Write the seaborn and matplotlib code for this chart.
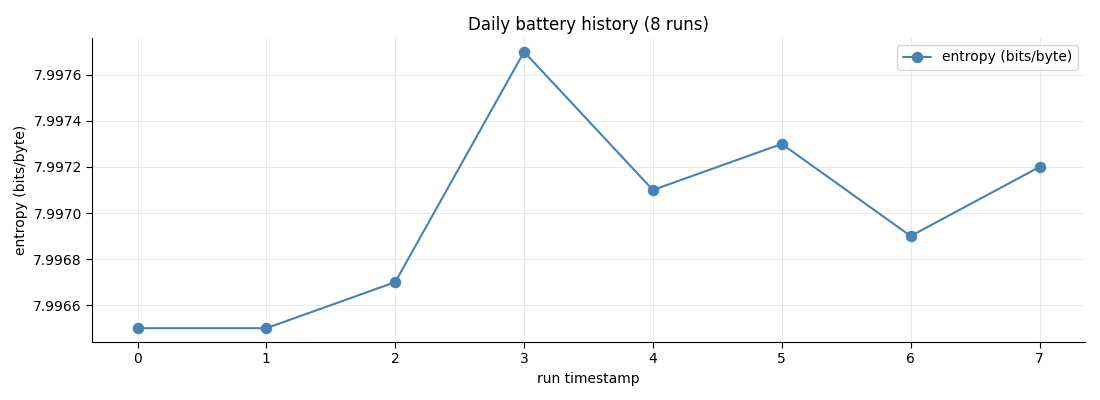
import matplotlib
matplotlib.use("Agg")
import matplotlib.pyplot as plt
import seaborn as sns
import pandas as pd

runs = [0, 1, 2, 3, 4, 5, 6, 7]
entropy = [7.9965, 7.9965, 7.9967, 7.9977, 7.9971, 7.9973, 7.9969, 7.9972]

df = pd.DataFrame({"run": runs, "entropy": entropy})

sns.set_style("white")
plt.rcParams['font.family'] = ['DejaVu Sans']
plt.rcParams.update({
    "text.color": "black", "axes.labelcolor": "black",
    "xtick.color": "black", "ytick.color": "black",
    "axes.edgecolor": "black",
})

fig, ax = plt.subplots(figsize=(11, 4), dpi=100)
sns.lineplot(data=df, x="run", y="entropy", marker="o", markersize=7.5,
             color="#4682b4", markeredgecolor="#4682b4", linewidth=1.5,
             label="entropy (bits/byte)", ax=ax)
ax.grid(True, color="#dddddd", linewidth=0.6, alpha=0.8)
ax.set_axisbelow(True)
ax.spines["top"].set_visible(False)
ax.spines["right"].set_visible(False)
ax.set_title("Daily battery history (8 runs)", fontsize=12)
ax.set_xlabel("run timestamp")
ax.set_ylabel("entropy (bits/byte)")
ax.set_xticks(runs)
ax.ticklabel_format(axis="y", useOffset=False, style="plain")
ax.legend(loc="upper right")
ax.tick_params(axis="both", which="both", length=4, left=True, bottom=True)
fig.subplots_adjust(left=0.084, right=0.986, top=0.905, bottom=0.145)
fig.savefig("out.png", dpi=100)
